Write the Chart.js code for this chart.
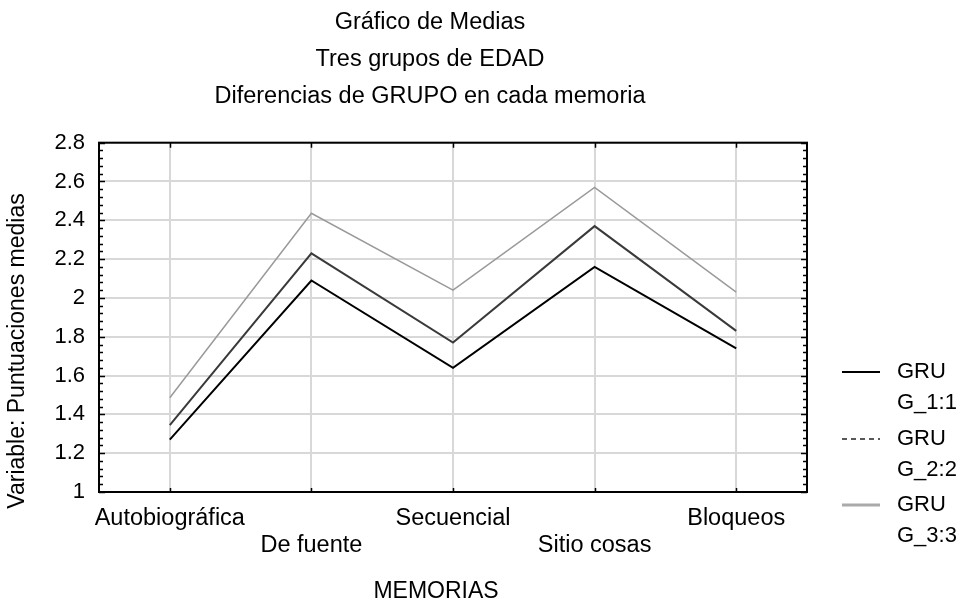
<!DOCTYPE html>
<html>
<head>
<meta charset="utf-8">
<script src="https://cdn.jsdelivr.net/npm/chart.js@4"></script>
<style>
  body { margin: 0; background: #fff; }
  #wrap { width: 963px; height: 600px; position: relative; }
</style>
</head>
<body>
<div id="wrap"><canvas id="graph"></canvas></div>
<script>
// data
const memorias = ['Autobiográfica', 'De fuente', 'Secuencial', 'Sitio cosas', 'Bloqueos'];
const grupo1 = [1.27, 2.09, 1.64, 2.16, 1.74];
const grupo2 = [1.345, 2.23, 1.77, 2.37, 1.83];
const grupo3 = [1.486, 2.436, 2.04, 2.57, 2.03];
const seriesNames = ['GRU G_1:1', 'GRU G_2:2', 'GRU G_3:3'];
const titleLines = ['Gráfico de Medias', 'Tres grupos de EDAD', 'Diferencias de GRUPO en cada memoria'];
const xTitle = 'MEMORIAS';
const yTitle = 'Variable: Puntuaciones medias';
const yMin = 1, yMax = 2.8, yStep = 0.2, yMinorStep = 0.04;

const FONT = 'Liberation Sans, Arial, sans-serif';

// legend swatches (plot draws all three solid, legend shows 2nd dashed)
const legendStyle = [
  { color: '#000', width: 2, dash: [] },
  { color: '#222', width: 1.5, dash: [5, 4] },
  { color: '#aaa', width: 3, dash: [] }
];

// frame, inward minor ticks, axis titles and legend
const framePlugin = {
  id: 'frame',
  afterDraw(chart) {
    const ctx = chart.ctx;
    const a = chart.chartArea;
    const ys = chart.scales.y;
    const xs = chart.scales.x;
    ctx.save();
    ctx.strokeStyle = '#000';
    ctx.lineWidth = 1.5;
    const n = Math.round((yMax - yMin) / yMinorStep);
    ctx.beginPath();
    for (let k = 0; k <= n; k++) {
      const py = Math.round(ys.getPixelForValue(yMin + k * yMinorStep)) + 0.5;
      const len = (k % 5 === 0) ? 6 : 4;
      ctx.moveTo(a.left, py); ctx.lineTo(a.left + len, py);
      ctx.moveTo(a.right, py); ctx.lineTo(a.right - len, py);
    }
    for (let i = 0; i < memorias.length; i++) {
      const px = Math.round(xs.getPixelForTick(i)) + 0.5;
      ctx.moveTo(px, a.top); ctx.lineTo(px, a.top + 5);
      ctx.moveTo(px, a.bottom); ctx.lineTo(px, a.bottom - 4);
    }
    ctx.stroke();
    ctx.lineWidth = 2;
    ctx.strokeRect(a.left, a.top, a.right - a.left, a.bottom - a.top);

    // axis titles (centred like the original, a bit off the plot centre)
    ctx.fillStyle = '#000';
    ctx.textAlign = 'center';
    ctx.textBaseline = 'middle';
    ctx.font = '23px ' + FONT;
    ctx.fillText(xTitle, 436, 592);
    ctx.save();
    ctx.translate(18, 351);
    ctx.rotate(-Math.PI / 2);
    ctx.fillText(yTitle, 0, 0);
    ctx.restore();

    // legend
    ctx.font = '22px ' + FONT;
    ctx.textAlign = 'left';
    const rows = [372, 439, 505];
    chart.data.datasets.forEach((ds, i) => {
      const st = legendStyle[i];
      const y = rows[i];
      ctx.beginPath();
      ctx.strokeStyle = st.color;
      ctx.lineWidth = st.width;
      ctx.setLineDash(st.dash);
      ctx.moveTo(842, y); ctx.lineTo(880, y);
      ctx.stroke();
      ctx.setLineDash([]);
      const parts = ds.label.split(' ');
      ctx.fillText(parts[0], 897, y);
      ctx.fillText(parts[1], 897, y + 31);
    });
    ctx.restore();
  }
};

const data = {
  labels: memorias,
  datasets: [
    { label: seriesNames[0], data: grupo1, borderColor: '#000', borderWidth: 2 },
    { label: seriesNames[1], data: grupo2, borderColor: '#3a3a3a', borderWidth: 2 },
    { label: seriesNames[2], data: grupo3, borderColor: '#9a9a9a', borderWidth: 1.5 }
  ]
};

const config = {
  type: 'line',
  data,
  plugins: [framePlugin],
  options: {
    responsive: true,
    maintainAspectRatio: false,
    animation: false,
    elements: { point: { radius: 0 }, line: { tension: 0 } },
    layout: { padding: { left: 0, right: 103, top: 0, bottom: 0 } },
    plugins: {
      legend: { display: false },
      tooltip: { enabled: false },
      title: {
        display: true,
        text: titleLines,
        color: '#000',
        font: { family: FONT, size: 23.5, weight: 'normal', lineHeight: 1.57 },
        padding: { top: 4, bottom: 28 }
      }
    },
    scales: {
      x: {
        offset: true,
        grid: { color: '#d8d8d8', lineWidth: 2, drawTicks: false },
        border: { display: false },
        ticks: {
          color: '#000',
          padding: 13,
          maxRotation: 0,
          autoSkip: false,
          font: { family: FONT, size: 23.5, lineHeight: 1.15 },
          callback: (v, i) => (i % 2 ? ['', memorias[i]] : memorias[i])
        },
        afterFit: s => { s.height = 108; }
      },
      y: {
        min: yMin,
        max: yMax,
        grid: { color: '#d8d8d8', lineWidth: 2, drawTicks: false },
        border: { display: false },
        ticks: {
          stepSize: yStep,
          color: '#000',
          padding: 14,
          font: { family: FONT, size: 22 },
          callback: v => String(+v.toFixed(1))
        },
        afterFit: s => { s.width = 99; }
      },
      y2: {
        position: 'right',
        grid: { drawOnChartArea: false, drawTicks: false },
        border: { display: false },
        ticks: { display: false },
        afterFit: s => { s.width = 53; }
      }
    }
  }
};

const chart = new Chart(document.getElementById('graph'), config);
</script>
</body>
</html>
